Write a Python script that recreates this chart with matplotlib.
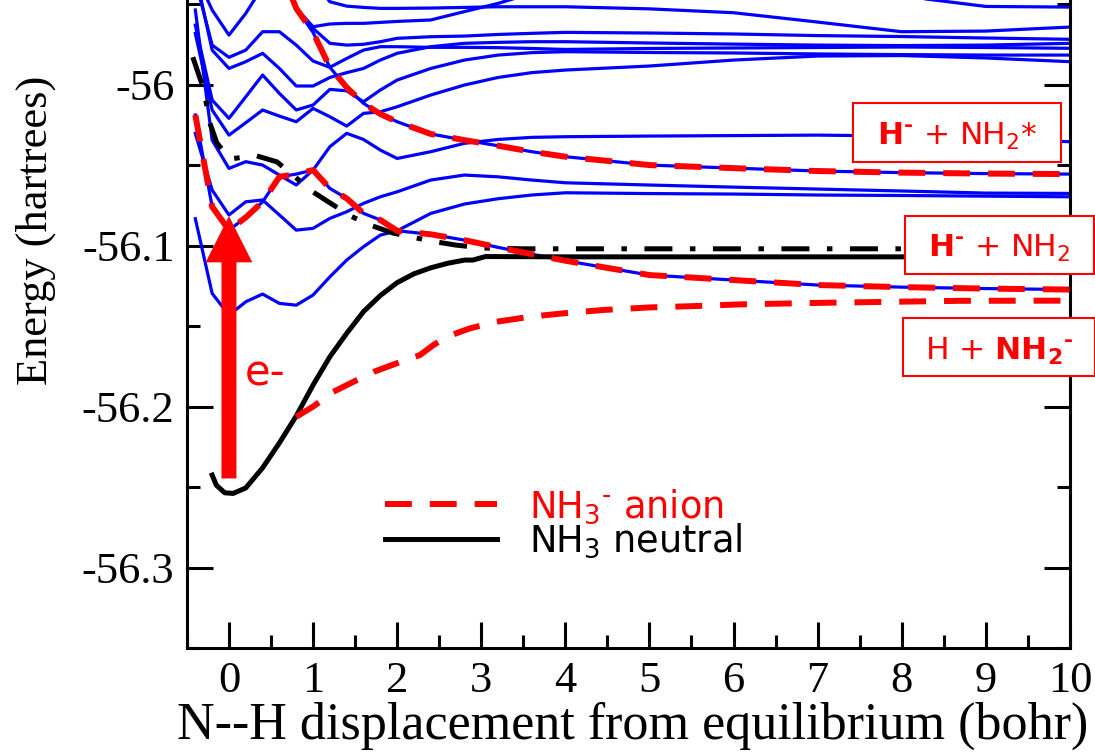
import numpy as np
import matplotlib

matplotlib.use('Agg')
import matplotlib.pyplot as plt
from matplotlib.ticker import MultipleLocator, FuncFormatter
from matplotlib.patches import Rectangle

plt.rcParams['font.family'] = ['Liberation Serif', 'DejaVu Serif']

nan = np.nan

# N--H displacement grid of the CI scan (bohr)
disp = np.array([-0.4, -0.2, 0.0, 0.2, 0.4, 0.6, 0.8, 1.0, 1.2, 1.4, 1.6, 1.8,
                 2.0, 2.4, 2.8, 3.2, 3.6, 4.0, 5.0, 6.0, 7.0, 8.0, 9.0, 10.0])

# CI state energies (hartree) on the grid above
state_a = [-55.931, -55.9537, -55.9693, -55.9558, -55.9393, -55.931, -55.925, -55.925,
           -55.925, -55.925, -55.925, -55.925, -55.925, -55.925, -55.925, -55.925,
           -55.925, -55.925, -55.925, -55.93, -55.935, -55.945, -55.9515, -55.9519]
state_b = [nan, nan, nan, nan, nan, nan, nan, -55.9351, -55.9486, -55.9513, -55.9521,
           -55.9527, -55.9527, -55.9525, -55.9521, -55.9517, -55.9517, -55.9517,
           -55.953, -55.9554, -55.9612, -55.9672, -55.9668, -55.9643]
state_c = [nan, nan, nan, nan, nan, -55.9268, -55.9527, -55.9641, -55.9624, -55.962,
           -55.962, -55.9614, -55.9608, -55.9599, -55.9547, -55.9496, -55.9434, -55.9393,
           -55.935, -55.93, -55.93, -55.93, -55.93, -55.93]
state_d = [nan, nan, nan, nan, nan, -55.9268, -55.9527, -55.9651, -55.9744, -55.9755,
           -55.975, -55.9734, -55.9713, -55.9703, -55.9699, -55.9689, -55.9682, -55.9676,
           -55.968, -55.9686, -55.9696, -55.9702, -55.9711, -55.9719]
state_e = [nan, nan, nan, nan, nan, -55.9268, -55.9527, -55.9676, -55.9893, -55.9838,
           -55.9786, -55.9765, -55.9765, -55.9769, -55.9769, -55.9771, -55.9776, -55.9782,
           -55.9776, -55.9773, -55.977, -55.9767, -55.977, -55.9775]
state_f = [-55.9351, -55.9755, -55.9831, -55.9786, -55.9672, -55.9672, -55.9755, -55.9854,
           -55.9893, -56.0018, -56.0117, -56.0183, -56.0231, -56.0307, -56.0345, -56.038,
           -56.0417, -56.0448, -56.05, -56.0519, -56.0537, -56.0547, -56.0553, -56.0556]
state_g = [-55.931, -55.9786, -55.99, -55.9858, -55.9806, -55.99, -56.0009, -56.0009,
           -55.9956, -55.9926, -55.99, -55.9848, -55.9806, -55.9765, -55.9744, -55.9738,
           -55.9734, -55.9734, -55.9742, -55.9749, -55.9755, -55.9758, -55.9755, -55.9744]
state_h = [-55.9631, -56.0096, -56.021, -56.0076, -55.9941, -56.0055, -56.0158, -56.0127,
           -56.003, -56.0039, -56.0107, -56.0034, -55.9972, -55.99, -55.9848, -55.9817,
           -55.9802, -55.9796, -55.9801, -55.9804, -55.981, -55.9814, -55.9817, -55.9817]
state_i = [-55.9682, -56.0158, -56.0314, -56.0237, -56.0158, -56.0196, -56.0231, -56.0148,
           -56.02, -56.0258, -56.0179, -56.0169, -56.0138, -56.0065, -56.0003, -55.9956,
           -55.9926, -55.991, -55.9885, -55.9848, -55.9823, -55.982, -55.9835, -55.9858]
state_j = [-55.9537, -56.0345, -56.0521, -56.0479, -56.05, -56.0562, -56.0624, -56.0531,
           -56.0645, -56.0707, -56.08, -56.0841, -56.0908, -56.08, -56.0742, -56.0709,
           -56.0686, -56.0672, -56.0677, -56.068, -56.0686, -56.0689, -56.0693, -56.0697]
state_k = [-56.0303, -56.0655, -56.081, -56.0728, -56.0717, -56.081, -56.0904, -56.0893,
           -56.0831, -56.079, -56.0738, -56.0697, -56.0666, -56.0593, -56.0562, -56.0573,
           -56.0593, -56.061, -56.0624, -56.0637, -56.0649, -56.0661, -56.0674, -56.0676]
state_l = [-56.0189, -56.0759, -56.0904, -56.0825, -56.0728, -56.0573, -56.0556, -56.0531,
           -56.0386, -56.0303, -56.0341, -56.0407, -56.0459, -56.0417, -56.0365, -56.0341,
           -56.0328, -56.0324, -56.032, -56.0317, -56.0314, -56.032, -56.0339, -56.0355]
state_m = [-56.0833, -56.1297, -56.1432, -56.1349, -56.1301, -56.1359, -56.137, -56.1307,
           -56.1194, -56.109, -56.1007, -56.0935, -56.0908, -56.093, -56.0966, -56.1011,
           -56.1053, -56.1094, -56.1183, -56.1214, -56.1245, -56.1258, -56.1267, -56.1273]

ci_states = [state_a, state_b, state_c, state_d, state_e, state_f, state_g,
             state_h, state_i, state_j, state_k, state_l, state_m]

# anion paths picked out of the CI states
anion_h_minus = np.concatenate([state_l[:8], state_j[8:13], state_m[13:]])
anion_star_x = disp[5:]
anion_star = np.concatenate([state_e[5:9], state_f[9:]])

# H + NH2- channel
anion_nh2_x = [0.8, 1.0, 1.24, 1.48, 1.72, 1.99, 2.27, 2.43, 2.59, 2.865, 3.18, 3.58,
               3.97, 4.45, 5.0, 5.52, 6.08, 7.1, 8.69, 10.0]
anion_nh2 = [-56.2063, -56.2, -56.1908, -56.1846, -56.1784, -56.1732, -56.168, -56.1618,
             -56.1566, -56.1514, -56.1473, -56.1442, -56.1421, -56.14, -56.1384, -56.1376,
             -56.1365, -56.1355, -56.1343, -56.1342]

# neutral ground state
neutral_x = [-0.2, -0.15, -0.05, 0.05, 0.2, 0.4, 0.6, 0.8, 1.0, 1.2, 1.4, 1.6, 1.8, 2.0,
             2.2, 2.4, 2.6, 2.8, 2.9, 3.05, 4.0, 6.0, 8.0, 10.0]
neutral = [-56.2425, -56.2488, -56.2535, -56.2539, -56.2505, -56.238, -56.2225, -56.2058,
           -56.1866, -56.169, -56.1545, -56.141, -56.131, -56.123, -56.1175, -56.1138,
           -56.111, -56.109, -56.109, -56.1068, -56.107, -56.107, -56.107, -56.107]

# dash-dot curve
dashdot_x = [-0.43, -0.3, -0.226, -0.146, 0.0, 0.05, 0.31, 0.57, 0.785, 0.98, 1.18, 1.46,
             1.68, 1.95, 2.23, 2.45, 2.7, 3.02, 3.5, 8.04]
dashdot = [-55.983, -56.003, -56.024, -56.036, -56.0457, -56.046, -56.044, -56.048,
           -56.0573, -56.066, -56.0728, -56.082, -56.0873, -56.0922, -56.0953, -56.0976,
           -56.0997, -56.1015, -56.102, -56.102]

# vertical excitation arrow at equilibrium
arrow_x = 0.0
arrow_from = -56.2446
arrow_to = -56.0817

blue = '#0000ff'
red = '#ff0000'

fig = plt.figure(figsize=(10.95, 7.53), dpi=100)
ax = fig.add_axes([0.1707, 0.1392, 0.8064, 0.8608])

for ys in ci_states:
    ax.plot(disp, ys, color=blue, lw=2.3, zorder=2)

ax.plot(dashdot_x, dashdot, color='k', lw=3.6, dashes=(5.6, 3.5, 1.1, 3.5), zorder=3)
neutral_line, = ax.plot(neutral_x, neutral, color='k', lw=3.6, zorder=3)

dash = (4.5, 3.0)
anion_line, = ax.plot(disp, anion_h_minus, color=red, lw=4.3, dashes=dash, zorder=4)
ax.plot(anion_star_x, anion_star, color=red, lw=4.3, dashes=dash, zorder=4)
ax.plot(anion_nh2_x, anion_nh2, color=red, lw=4.3, dashes=dash, zorder=4)

ax.arrow(arrow_x, arrow_from, 0, arrow_to - arrow_from, width=0.178, head_width=0.555,
         head_length=0.0287, length_includes_head=True, color=red, lw=0, zorder=5)
ax.text(0.19, -56.1866, 'e-', color=red, fontsize=30, family='DejaVu Sans',
        ha='left', va='baseline', zorder=5)

ax.set_xlim(-0.5, 10)
ax.set_ylim(-56.35, -55.9475)
ax.xaxis.set_major_locator(MultipleLocator(1))
ax.xaxis.set_minor_locator(MultipleLocator(0.5))
ax.yaxis.set_major_locator(MultipleLocator(0.1))
ax.yaxis.set_minor_locator(MultipleLocator(0.05))
fmt = FuncFormatter(lambda v, p: '%g' % round(v, 3))
ax.xaxis.set_major_formatter(fmt)
ax.yaxis.set_major_formatter(fmt)
ax.tick_params(which='both', direction='in', right=True, top=False, width=2.2,
               labelsize=32, pad=9)
ax.tick_params(which='major', length=18.7)
ax.tick_params(which='minor', length=9.4)
ax.spines['top'].set_visible(False)
for s in ['left', 'right', 'bottom']:
    ax.spines[s].set_linewidth(2.2)

ax.set_xlabel('N--H displacement from equilibrium (bohr)', fontsize=37.5)
ax.set_ylabel('Energy (hartrees)', fontsize=32)
ax.xaxis.set_label_coords(0.505, -0.082)
ax.yaxis.set_label_coords(-0.1483, 0.644)

ax.legend([anion_line, neutral_line], ['NH$_3{}^{‐}$ anion', 'NH$_3$ neutral'],
          loc='upper left', bbox_to_anchor=(0.2243, 0.2487), frameon=False,
          borderpad=0, borderaxespad=0, handlelength=3.05, handletextpad=0.85,
          labelspacing=-0.1, prop={'family': 'DejaVu Sans', 'size': 26.5},
          labelcolor='linecolor')

# asymptote labels
boxes = [
    (0.7790, 0.7849, 0.1900, 0.0784, 0.874, 0.8074, r'$\mathbf{H}^{\mathbf{‐}}$ + NH$_2$*'),
    (0.8265, 0.6355, 0.1726, 0.0777, 0.9126, 0.6583, r'$\mathbf{H}^{\mathbf{‐}}$ + NH$_2$'),
    (0.8244, 0.5007, 0.1756, 0.0774, 0.9123, 0.5219, r'H + $\mathbf{NH_2{}^{‐}}$'),
]
for x0, y0, w, h, tx, ty, label in boxes:
    fig.add_artist(Rectangle((x0, y0), w, h, transform=fig.transFigure,
                             facecolor='white', edgecolor=red, lw=1.5, zorder=6))
    fig.text(tx, ty, label, color=red, fontsize=22.5, family='DejaVu Sans',
             ha='center', va='baseline', zorder=7)

fig.savefig('out.png', dpi=100)
